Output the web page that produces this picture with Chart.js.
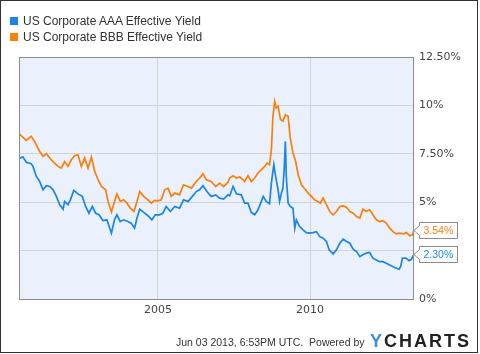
<!DOCTYPE html>
<html>
<head>
<meta charset="utf-8">
<script src="https://cdn.jsdelivr.net/npm/chart.js@4.4.0/dist/chart.umd.min.js"></script>
<style>
  html, body { margin: 0; padding: 0; background: #fff; }
  #frame { position: relative; width: 478px; height: 353px; box-sizing: border-box; border: 1px solid #333; overflow: hidden; }
  #chart { position: absolute; left: -1px; top: -1px; }
  .sw { position: absolute; width: 8px; height: 8px; }
  .lg { position: absolute; left: 22px; font: 12px "Liberation Sans", Arial, sans-serif; color: #333; line-height: 14px; white-space: nowrap; }
  #foot { position: absolute; left: 175px; top: 334px; font: 10.5px "Liberation Sans", Arial, sans-serif; color: #333; white-space: nowrap; line-height: 14px; }
  #logo { position: absolute; left: 369px; top: 330px; font: bold 18px "Liberation Sans", Arial, sans-serif; color: #222; letter-spacing: 2px; white-space: nowrap; line-height: 20px; }
  #logo span { color: #3d8fe0; }
</style>
</head>
<body>
<div id="frame">
  <canvas id="chart" width="480" height="354"></canvas>
  <div class="sw" style="left:9px;top:16px;background:#1a85e6"></div>
  <div class="lg" style="top:13px">US Corporate AAA Effective Yield</div>
  <div class="sw" style="left:9px;top:32px;background:#fb7f0a"></div>
  <div class="lg" style="top:29px">US Corporate BBB Effective Yield</div>
  <div id="foot">Jun 03 2013, 6:53PM UTC.&nbsp; Powered by</div>
  <div id="logo"><span>Y</span>CHARTS</div>
</div>
<script>
// decimal years
const aaaYears = [2000.43,2000.56,2000.67,2000.83,2000.89,2001.00,2001.11,2001.22,2001.33,2001.44,
  2001.55,2001.66,2001.77,2001.88,2001.93,2002.04,2002.12,2002.23,2002.37,2002.51,
  2002.62,2002.73,2002.84,2002.95,2003.06,2003.19,2003.32,2003.47,2003.57,2003.65,
  2003.76,2003.87,2004.01,2004.12,2004.23,2004.31,2004.40,2004.53,2004.67,2004.80,
  2004.91,2005.05,2005.16,2005.27,2005.41,2005.55,2005.71,2005.84,2005.99,2006.13,
  2006.26,2006.37,2006.48,2006.61,2006.75,2006.90,2007.03,2007.16,2007.30,
  2007.36,2007.47,2007.58,2007.74,2007.85,2007.96,2008.07,2008.18,2008.29,2008.40,
  2008.46,2008.56,2008.67,2008.73,2008.81,2008.87,2008.95,2009.00,2009.06,2009.11,
  2009.15,2009.19,2009.22,2009.28,2009.35,2009.44,2009.50,2009.55,2009.66,2009.77,
  2009.88,2009.99,2010.10,2010.21,2010.32,2010.43,2010.54,2010.63,2010.76,2010.87,
  2010.98,2011.09,2011.20,2011.31,2011.42,2011.53,2011.64,2011.74,2011.85,2011.96,
  2012.07,2012.18,2012.29,2012.40,2012.51,2012.62,2012.73,2012.84,2012.93,2012.98,
  2013.04,2013.15,2013.26,2013.33,2013.42];
const aaaValues = [7.28,7.33,7.06,6.99,6.85,6.33,6.07,5.64,5.85,5.81,
  5.64,5.30,4.87,4.64,5.04,4.87,5.12,5.61,5.43,5.30,
  4.78,4.43,4.78,4.43,4.35,4.05,4.09,3.40,4.09,4.35,
  4.00,4.09,4.00,3.92,3.66,4.18,4.64,4.47,4.30,4.09,
  4.35,4.35,4.43,4.78,4.52,4.78,4.69,5.12,5.04,5.30,
  5.55,5.64,5.85,5.55,5.30,5.38,5.21,5.16,5.38,
  5.33,5.81,5.43,5.38,4.95,4.95,4.47,4.35,4.61,5.04,
  5.30,5.04,4.92,5.99,6.94,6.33,5.64,5.04,5.47,5.73,
  6.68,8.14,6.33,4.95,4.78,4.69,3.66,4.09,3.74,3.57,
  3.43,3.40,3.43,3.48,3.22,3.14,2.97,2.54,2.33,2.54,
  2.88,3.09,2.97,2.88,2.57,2.45,2.19,2.28,2.37,2.40,
  2.11,2.02,1.93,1.93,1.85,1.76,1.67,1.59,1.54,1.67,
  2.11,2.11,1.98,2.05,2.30];

const bbbYears = [2000.43,2000.50,2000.67,2000.83,2000.94,2001.11,2001.22,2001.33,2001.44,2001.55,
  2001.71,2001.82,2001.93,2002.04,2002.15,2002.26,2002.37,2002.48,2002.59,2002.70,
  2002.81,2002.92,2003.03,2003.14,2003.28,2003.36,2003.47,2003.54,2003.65,2003.76,
  2003.87,2003.98,2004.09,2004.21,2004.31,2004.40,2004.53,2004.67,2004.78,2004.89,
  2005.00,2005.11,2005.22,2005.33,2005.44,2005.55,2005.71,2005.84,2005.99,2006.10,
  2006.26,2006.37,2006.48,2006.59,2006.75,2006.90,2007.03,2007.16,2007.30,
  2007.36,2007.47,2007.58,2007.69,2007.80,2007.85,2007.96,2008.07,2008.18,2008.29,
  2008.40,2008.51,2008.59,2008.67,2008.73,2008.78,2008.84,2008.89,2008.95,2009.03,
  2009.11,2009.19,2009.28,2009.35,2009.44,2009.53,2009.61,2009.72,2009.83,2009.94,
  2010.05,2010.15,2010.26,2010.34,2010.43,2010.54,2010.65,2010.76,2010.87,2010.98,
  2011.09,2011.20,2011.31,2011.42,2011.53,2011.64,2011.74,2011.85,2011.96,2012.07,
  2012.18,2012.29,2012.40,2012.51,2012.62,2012.73,2012.84,2012.95,2013.06,2013.17,
  2013.28,2013.37,2013.42];
const bbbValues = [8.54,8.44,8.19,8.40,8.14,7.62,7.37,7.50,7.28,7.10,
  6.85,6.76,7.10,6.85,7.19,7.40,7.45,6.85,7.28,6.76,
  7.33,6.59,6.16,5.81,5.64,5.04,4.49,4.87,5.43,5.04,
  5.12,4.95,4.69,4.52,5.04,5.55,5.30,5.12,4.95,5.09,
  5.07,5.12,5.64,5.73,5.30,5.47,5.38,5.90,5.81,5.73,
  6.07,6.25,6.47,6.16,6.07,5.81,5.99,5.81,6.02,
  6.25,6.37,6.25,6.30,6.16,6.07,6.37,6.07,6.25,6.51,
  6.68,6.85,7.02,6.94,7.71,9.44,10.21,9.87,9.95,9.27,
  9.18,9.52,9.44,8.32,7.54,7.10,6.42,5.90,5.68,5.47,
  5.30,5.12,5.04,4.95,5.21,4.87,4.52,4.35,4.52,4.78,
  4.81,4.74,4.52,4.43,4.26,4.18,4.64,4.52,4.61,4.35,
  4.09,4.00,4.05,3.92,3.66,3.48,3.36,3.40,3.36,3.43,
  3.26,3.31,3.54];

// the 2.5% label sits under the AAA value tag in the original, so it is left blank
const yTicks = [0, 2.5, 5, 7.5, 10, 12.5];
const yTickLabels = ['0%', '', '5%', '7.50%', '10%', '12.50%'];
const xTicks = [2005, 2010];

const BLUE = '#1a85e6';
const ORANGE = '#fb7f0a';

const toPoints = (xs, ys) => xs.map((x, i) => ({ x, y: ys[i] }));

// plot background + border
const plotFrame = {
  id: 'plotFrame',
  beforeDraw(chart) {
    const { ctx, chartArea: a } = chart;
    ctx.save();
    ctx.fillStyle = '#eaf1fc';
    ctx.fillRect(a.left, a.top, a.right - a.left, a.bottom - a.top);
    ctx.restore();
  },
  afterDraw(chart) {
    const { ctx, chartArea: a } = chart;
    ctx.save();
    ctx.strokeStyle = '#8c8c8c';
    ctx.lineWidth = 1;
    ctx.strokeRect(Math.round(a.left) + 0.5, Math.round(a.top) + 0.5,
      Math.round(a.right - a.left) - 1, Math.round(a.bottom - a.top));
    ctx.restore();
  }
};

// last value flags on the right axis
const lastValueTags = {
  id: 'lastValueTags',
  afterDraw(chart) {
    const { ctx, chartArea: a } = chart;
    const yScale = chart.scales.y;
    ctx.save();
    chart.data.datasets.forEach(ds => {
      const last = ds.data[ds.data.length - 1].y;
      const y = Math.round(yScale.getPixelForValue(last)) + 0.5;
      const x0 = a.right + 5.5, w = 38, h = 16;
      ctx.beginPath();
      ctx.moveTo(a.right, y);
      ctx.lineTo(x0, y - 5);
      ctx.lineTo(x0, y - h / 2);
      ctx.lineTo(x0 + w, y - h / 2);
      ctx.lineTo(x0 + w, y + h / 2);
      ctx.lineTo(x0, y + h / 2);
      ctx.lineTo(x0, y + 5);
      ctx.closePath();
      ctx.fillStyle = '#fff';
      ctx.fill();
      ctx.strokeStyle = '#8c8c8c';
      ctx.lineWidth = 1;
      ctx.stroke();
      ctx.fillStyle = ds.borderColor;
      ctx.font = '10.5px "Liberation Sans", Arial, sans-serif';
      ctx.textBaseline = 'middle';
      ctx.fillText(last.toFixed(2) + '%', x0 + 4, y + 0.5);
    });
    ctx.restore();
  }
};

Chart.defaults.font.family = '"DejaVu Sans", sans-serif';
Chart.defaults.font.size = 11;
Chart.defaults.color = '#444';

new Chart(document.getElementById('chart'), {
  type: 'line',
  data: {
    datasets: [
      { label: 'US Corporate AAA Effective Yield', data: toPoints(aaaYears, aaaValues),
        borderColor: BLUE, borderWidth: 1.7, pointRadius: 0, tension: 0 },
      { label: 'US Corporate BBB Effective Yield', data: toPoints(bbbYears, bbbValues),
        borderColor: ORANGE, borderWidth: 1.7, pointRadius: 0, tension: 0 }
    ]
  },
  options: {
    responsive: false,
    animation: false,
    layout: { padding: { left: 19, top: 57, right: 0, bottom: 0 } },
    plugins: { legend: { display: false }, tooltip: { enabled: false } },
    scales: {
      x: {
        type: 'linear',
        min: 2000.43,
        max: 2013.42,
        afterBuildTicks: s => { s.ticks = xTicks.map(v => ({ value: v })); },
        afterFit: s => { s.height = 55; },
        ticks: { callback: v => String(v), padding: 5, maxRotation: 0 },
        grid: { color: '#d4d4d4', drawTicks: false },
        border: { display: false }
      },
      y: {
        position: 'right',
        min: 0,
        max: 12.5,
        afterBuildTicks: s => { s.ticks = yTicks.map(v => ({ value: v })); },
        afterFit: s => { s.width = 66; },
        ticks: { callback: v => yTickLabels[yTicks.indexOf(v)], padding: 5 },
        grid: { color: '#d4d4d4', drawTicks: false },
        border: { display: false }
      }
    }
  },
  plugins: [plotFrame, lastValueTags]
});
</script>
</body>
</html>
